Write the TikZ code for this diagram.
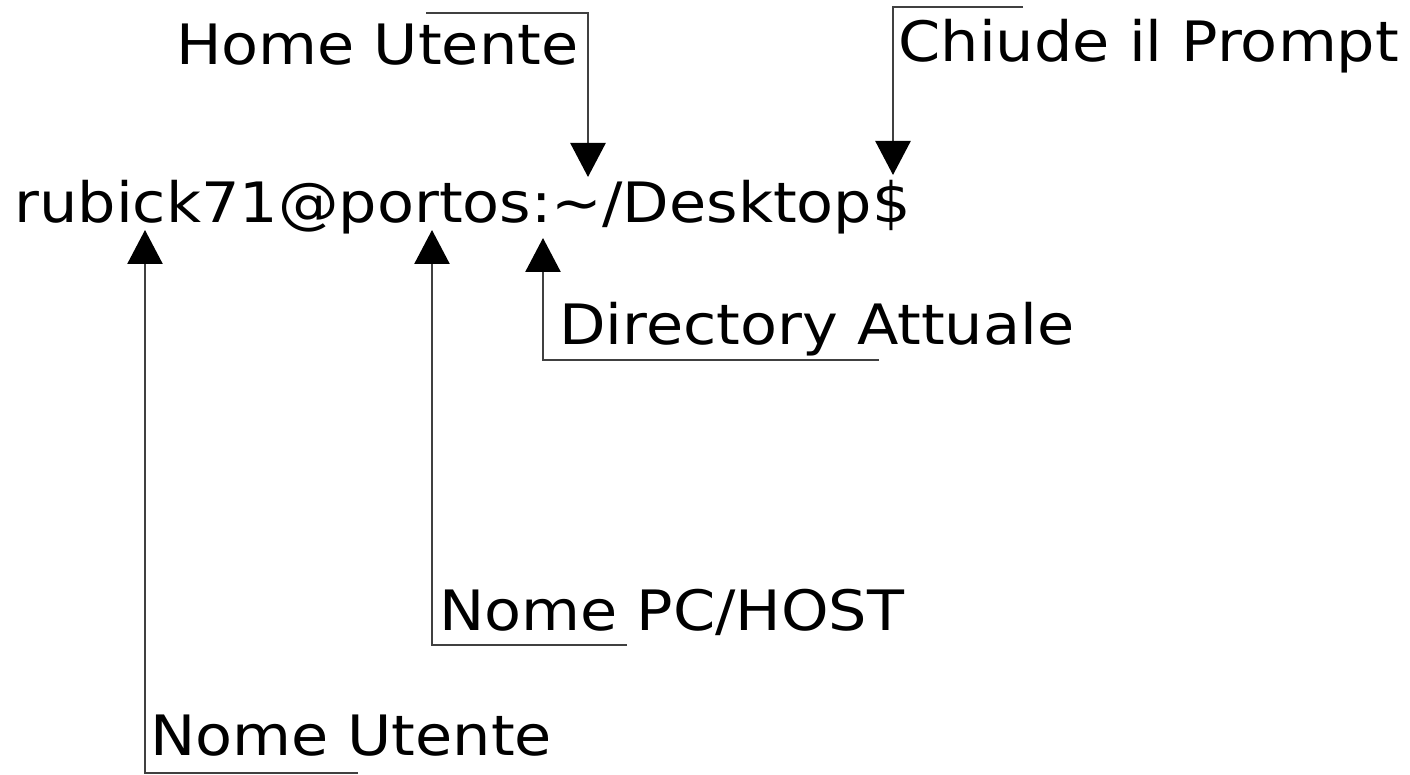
\documentclass[tikz,border=0pt]{standalone}
\usepackage{fontspec}
\setmainfont{DejaVu Sans}
\usetikzlibrary{arrows.meta}

\tikzset{
  lbl/.style={anchor=base west, inner sep=0pt, outer sep=0pt,
              font=\fontsize{30.25}{36}\selectfont},
  pointer/.style={draw=black!75, line width=1.3pt,
                  -{Triangle[length=17pt, width=17.5pt, color=black]}},
}
\newcommand{\squashtext}[1]{\scalebox{1}[0.92]{#1}}

\begin{document}
\begin{tikzpicture}[x=0.5pt, y=-0.5pt]
  \useasboundingbox (0,0) rectangle (1410,775);

  % the shell prompt
  \node[lbl] (prompt) at (14.5,223) {\squashtext{rubick71@portos:\textasciitilde/Desktop\$}};

  % labels
  \node[lbl] (home)  at (176,65)   {\squashtext{Home Utente}};
  \node[lbl] (close) at (898.5,62) {\squashtext{Chiude il Prompt}};
  \node[lbl] (dir)   at (559,345)  {\squashtext{Directory Attuale}};
  \node[lbl] (host)  at (439,630)  {\squashtext{Nome PC/HOST}};
  \node[lbl] (user)  at (150,755)  {\squashtext{Nome Utente}};

  % targets inside the prompt
  \coordinate (tHome)  at (588,177);
  \coordinate (tClose) at (893,175);
  \coordinate (tDir)   at (543,238);
  \coordinate (tHost)  at (432,230);
  \coordinate (tUser)  at (145,230);

  % free ends of the leader lines
  \coordinate (eHome)  at (426,13);
  \coordinate (eClose) at (1023,7);
  \coordinate (eDir)   at (879,360);
  \coordinate (eHost)  at (627,645);
  \coordinate (eUser)  at (358,773);

  \draw[pointer] (eHome)  -| (tHome);
  \draw[pointer] (eClose) -| (tClose);
  \draw[pointer] (eDir)   -| (tDir);
  \draw[pointer] (eHost)  -| (tHost);
  \draw[pointer] (eUser)  -| (tUser);
\end{tikzpicture}
\end{document}
